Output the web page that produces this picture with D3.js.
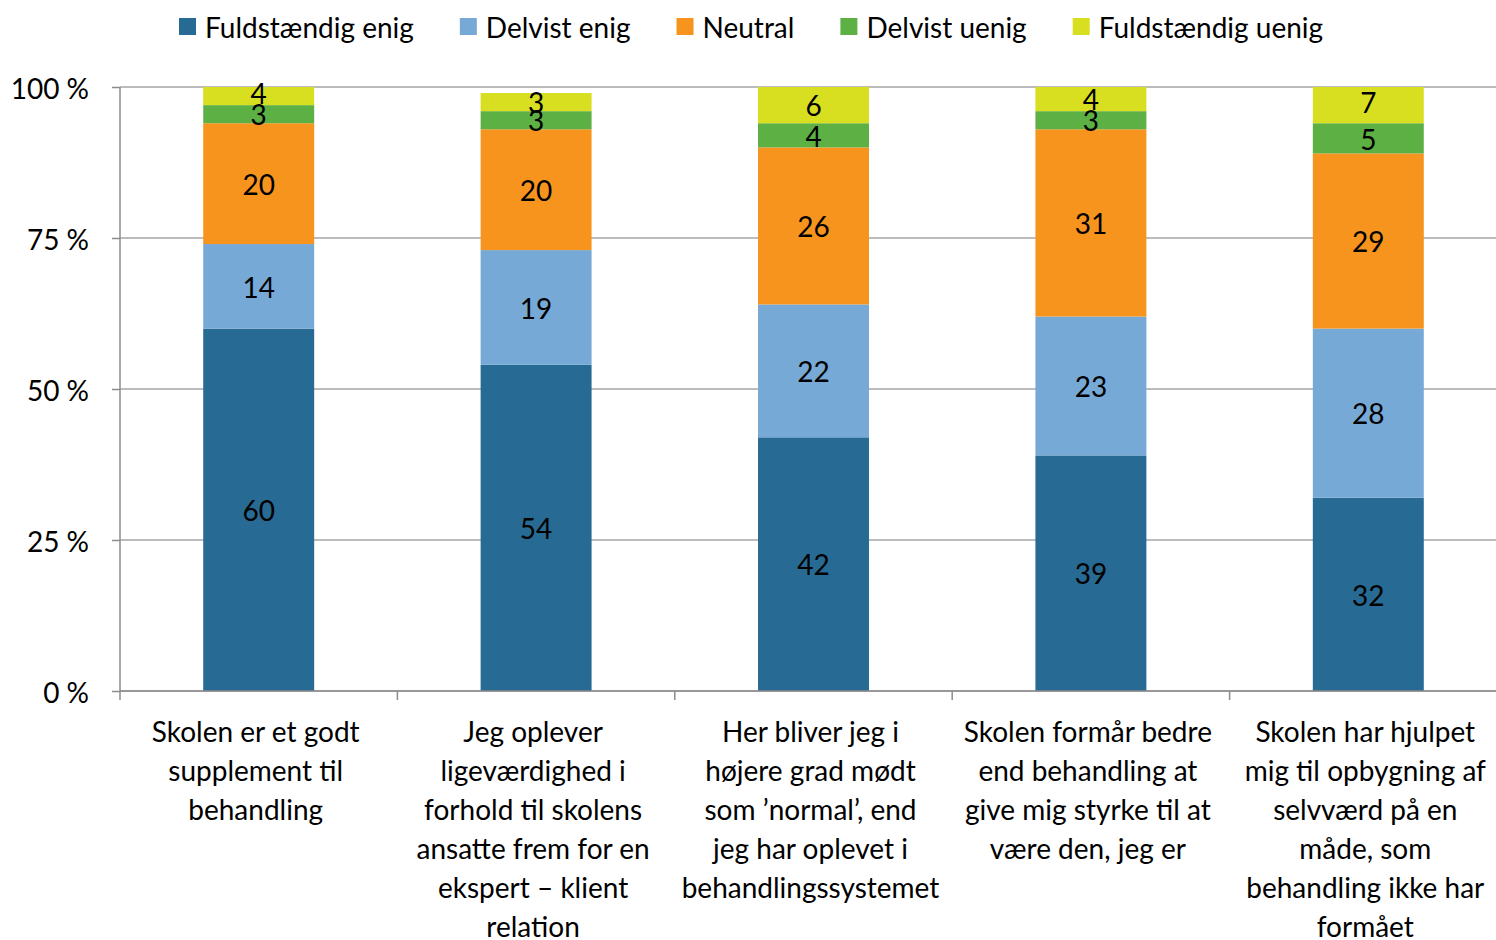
<!DOCTYPE html>
<html>
  <head>
    <meta charset="utf-8" />
    <script src="https://d3js.org/d3.v7.min.js"></script>
    <style>
      body { margin: 0; background: #fff; }
      text { font-family: Lato, "Open Sans", sans-serif; fill: #000; }
    </style>
  </head>
  <body>
    <div id="chart"></div>
    <script>
      const categories = [
        ["Skolen er et godt", "supplement til", "behandling"],
        ["Jeg oplever", "ligeværdighed i", "forhold til skolens", "ansatte frem for en", "ekspert – klient", "relation"],
        ["Her bliver jeg i", "højere grad mødt", "som ’normal’, end", "jeg har oplevet i", "behandlingssystemet"],
        ["Skolen formår bedre", "end behandling at", "give mig styrke til at", "være den, jeg er"],
        ["Skolen har hjulpet", "mig til opbygning af", "selvværd på en", "måde, som", "behandling ikke har", "formået"]
      ];
      const seriesNames = ["Fuldstændig enig", "Delvist enig", "Neutral", "Delvist uenig", "Fuldstændig uenig"];
      const fuldstaendigEnig = [60, 54, 42, 39, 32];
      const delvistEnig = [14, 19, 22, 23, 28];
      const neutral = [20, 20, 26, 31, 29];
      const delvistUenig = [3, 3, 4, 3, 5];
      const fuldstaendigUenig = [4, 3, 6, 4, 7];
      const yTicks = [0, 25, 50, 75, 100];
      const colors = ["#276a93", "#77a9d6", "#f7941e", "#5db043", "#d8df20"];

      const values = [fuldstaendigEnig, delvistEnig, neutral, delvistUenig, fuldstaendigUenig];
      const W = 1496, H = 940;
      const margin = { top: 87, left: 120, bottom: 249 };
      const plotH = H - margin.top - margin.bottom;
      const plotW = 1387;
      const fs = "28px";

      const svg = d3.select("#chart").append("svg").attr("width", W).attr("height", H);

      const x = d3.scaleBand().domain(d3.range(categories.length)).range([margin.left, margin.left + plotW]).paddingInner(0.6).paddingOuter(0.3);
      const xOuter = d3.scaleBand().domain(d3.range(categories.length)).range([margin.left, margin.left + plotW]);
      const y = d3.scaleLinear().domain([0, 100]).range([margin.top + plotH, margin.top]);

      // gridlines
      svg.append("g").selectAll("line").data(yTicks).join("line")
        .attr("x1", margin.left).attr("x2", W)
        .attr("y1", d => y(d)).attr("y2", d => y(d))
        .attr("stroke", "#a6a6a6").attr("stroke-width", 1.5);

      svg.append("defs").append("clipPath").attr("id", "plot")
        .append("rect").attr("x", margin.left).attr("y", y(100)).attr("width", plotW).attr("height", plotH);

      const stacked = d3.stack().keys(d3.range(seriesNames.length)).value((d, k) => values[k][d])(d3.range(categories.length));

      // bars (totals above 100 are cut at the top of the plot)
      const gBars = svg.append("g").attr("clip-path", "url(#plot)");
      stacked.forEach((s, k) => {
        gBars.selectAll(null).data(s).join("rect")
          .attr("x", (d, i) => x(i)).attr("width", x.bandwidth())
          .attr("y", d => y(d[1])).attr("height", d => y(d[0]) - y(d[1]))
          .attr("fill", colors[k]);
      });
      stacked.forEach((s, k) => {
        svg.append("g").selectAll("text").data(s).join("text")
          .attr("x", (d, i) => x(i) + x.bandwidth() / 2)
          .attr("y", d => y((d[0] + d[1]) / 2))
          .attr("dy", "0.4em").attr("text-anchor", "middle")
          .style("font-size", fs)
          .text((d, i) => values[k][i]);
      });

      // y axis
      const yAxis = svg.append("g").attr("transform", `translate(${margin.left},0)`)
        .call(d3.axisLeft(y).tickValues(yTicks).tickFormat(d => d + " %").tickSize(8).tickPadding(23));
      yAxis.select(".domain").attr("stroke", "#8c8c8c").attr("stroke-width", 1.5).attr("d", `M0,${y(100)}V${y(0) + 9}`);
      yAxis.selectAll(".tick line").attr("stroke", "#8c8c8c").attr("stroke-width", 1.5);
      yAxis.selectAll("text").style("font-size", fs).attr("font-family", null).attr("dy", "0.4em");

      // x axis
      const xAxisG = svg.append("g");
      xAxisG.append("line").attr("x1", margin.left).attr("x2", W).attr("y1", y(0)).attr("y2", y(0))
        .attr("stroke", "#8c8c8c").attr("stroke-width", 1.5);
      xAxisG.selectAll(".xt").data(d3.range(1, categories.length)).join("line")
        .attr("x1", d => xOuter(d)).attr("x2", d => xOuter(d))
        .attr("y1", y(0)).attr("y2", y(0) + 9)
        .attr("stroke", "#8c8c8c").attr("stroke-width", 1.5);

      categories.forEach((lines, i) => {
        const cx = x(i) + x.bandwidth() / 2 - 3;
        const t = svg.append("text").attr("text-anchor", "middle").style("font-size", fs);
        lines.forEach((l, j) => t.append("tspan").attr("x", cx).attr("y", 742 + j * 39).text(l));
      });

      // legend
      const legend = svg.append("g");
      let lx = 179;
      seriesNames.forEach((name, k) => {
        legend.append("rect").attr("x", lx).attr("y", 18).attr("width", 17).attr("height", 17).attr("fill", colors[k]);
        const t = legend.append("text").attr("x", lx + 26).attr("y", 27).attr("dy", "0.38em")
          .style("font-size", fs).text(name);
        lx += 26 + t.node().getComputedTextLength() + 46;
      });
    </script>
  </body>
</html>
